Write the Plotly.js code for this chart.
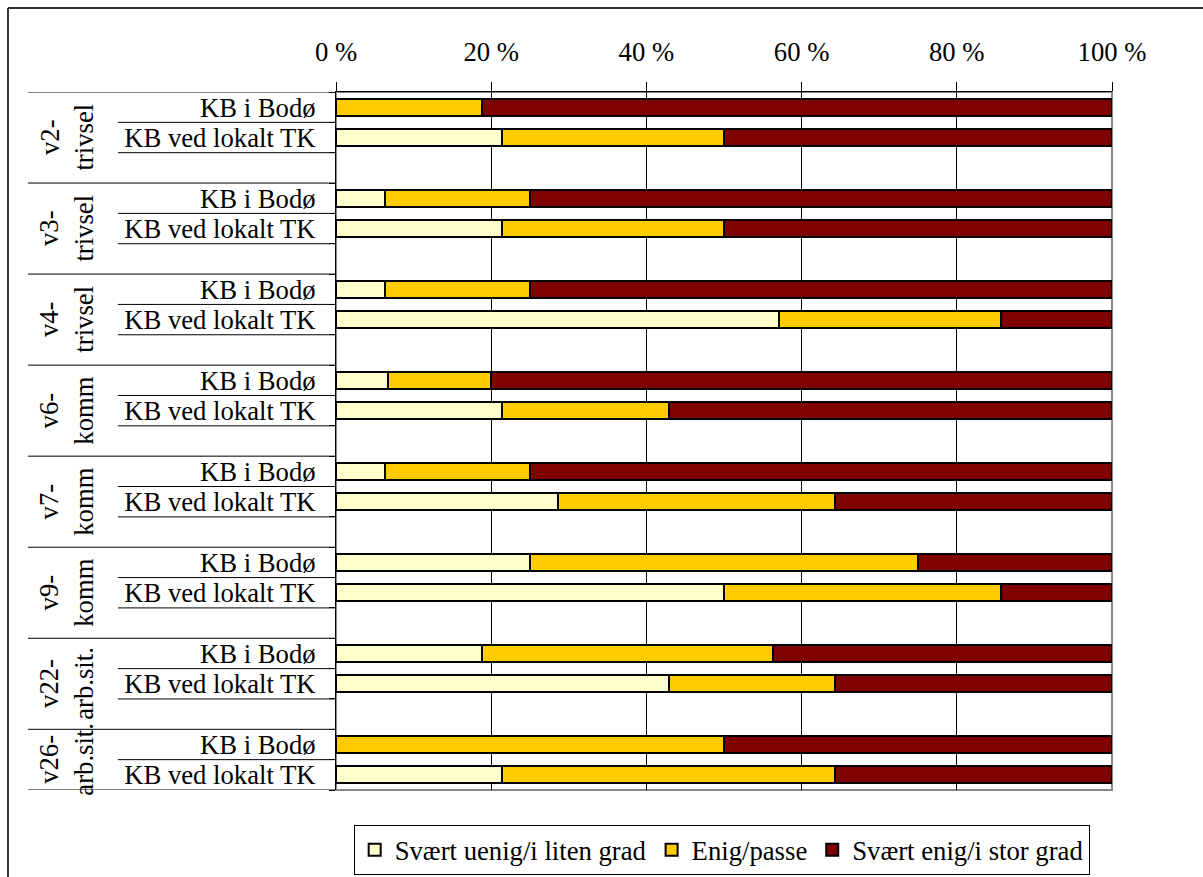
<!DOCTYPE html>
<html>
<head>
<meta charset="utf-8">
<script src="https://cdn.plot.ly/plotly-3.0.1.min.js"></script>
<style>
  html, body { margin: 0; padding: 0; background: #fff; }
  #chart { width: 1203px; height: 877px; }
</style>
</head>
<body>
<div id="chart"></div>
<script>
// Survey items (two-line group labels) and the two respondent units per item
const groups = ['v2-<br>trivsel', 'v3-<br>trivsel', 'v4-<br>trivsel', 'v6-<br>komm',
                'v7-<br>komm', 'v9-<br>komm', 'v22-<br>arb.sit.', 'v26-<br>arb.sit.'];
const units = ['KB i Bodø', 'KB ved lokalt TK'];

// Share of answers (%) per bar, ordered item by item: [Bodø, lokalt TK, ...]
const uenig    = [0, 21.43, 6.25, 21.43, 6.25, 57.14, 6.67, 21.43, 6.25, 28.57, 25, 50, 18.75, 42.86, 0, 21.43];
const enig     = [18.75, 28.57, 18.75, 28.57, 18.75, 28.57, 13.33, 21.43, 18.75, 35.71, 50, 35.71, 37.5, 21.43, 50, 42.86];
const storGrad = [81.25, 50, 75, 50, 75, 14.29, 80, 57.14, 75, 35.71, 25, 14.29, 43.75, 35.71, 50, 35.71];

const seriesNames = ['Svært uenig/i liten grad', 'Enig/passe', 'Svært enig/i stor grad'];
const seriesColors = ['#FFFFCC', '#FFCC00', '#800000'];
const xTicks = [0, 20, 40, 60, 80, 100];
const xTickLabels = ['0 %', '20 %', '40 %', '60 %', '80 %', '100 %'];

// Each item takes three rows (two bars + a spacer), the last item has no spacer
const yPos = [], yText = [];
groups.forEach((g, gi) => units.forEach((u, ui) => { yPos.push(3 * gi + ui); yText.push(u); }));
const nRows = 3 * groups.length - 1;

const FONT = 'Liberation Serif';
const FS = 26.7;

const traces = [uenig, enig, storGrad].map((vals, i) => ({
  type: 'bar',
  orientation: 'h',
  name: seriesNames[i],
  x: vals,
  y: yPos,
  width: 0.55,
  marker: { color: seriesColors[i], line: { color: '#000', width: 2 } },
  hoverinfo: 'skip'
}));

// Left-hand category separators: full-width lines between items, short ones between units
const shapes = [];
const groupLineX0 = -0.397, unitLineX0 = -0.281;
for (let gi = 0; gi <= groups.length; gi++) {
  const yb = Math.min(3 * gi, nRows) - 0.5;
  shapes.push({ type: 'line', xref: 'paper', yref: 'y', x0: groupLineX0, x1: 0, y0: yb, y1: yb,
                line: { color: '#000', width: 1 } });
}
groups.forEach((g, gi) => {
  const count = gi < groups.length - 1 ? 2 : 1;
  for (let k = 0; k < count; k++) {
    const yb = 3 * gi + k + 0.5;
    shapes.push({ type: 'line', xref: 'paper', yref: 'y', x0: unitLineX0, x1: 0, y0: yb, y1: yb,
                  line: { color: '#000', width: 1 } });
  }
});
// Plot-area frame (grey) and outer chart frame
shapes.push({ type: 'rect', xref: 'paper', yref: 'paper', x0: 0, x1: 1, y0: 0, y1: 1,
              line: { color: '#888', width: 2 }, layer: 'below' });
shapes.push({ type: 'line', xref: 'paper', yref: 'paper', x0: -0.4227, x1: 1.2, y0: 1.1203, y1: 1.1203,
              line: { color: '#333', width: 2 } });
shapes.push({ type: 'line', xref: 'paper', yref: 'paper', x0: -0.4227, x1: -0.4227, y0: -0.2, y1: 1.1203,
              line: { color: '#333', width: 2 } });

// Rotated item labels, centred on each item's block of rows
const annotations = groups.map((g, gi) => {
  const first = 3 * gi, last = Math.min(3 * gi + 2, nRows - 1);
  return {
    text: g, xref: 'paper', yref: 'y', x: -0.3466, y: (first + last) / 2,
    xanchor: 'center', yanchor: 'middle', textangle: -90, showarrow: false,
    font: { family: FONT, size: FS, color: '#000' }
  };
});

const layout = {
  width: 1203, height: 877,
  margin: { l: 336, r: 91, t: 92, b: 87, autoexpand: false },
  paper_bgcolor: '#fff', plot_bgcolor: '#fff',
  barmode: 'stack',
  font: { family: FONT, size: FS, color: '#000' },
  showlegend: true,
  legend: {
    orientation: 'h', x: 0.497, xanchor: 'center', y: -0.05, yanchor: 'top',
    bordercolor: '#000', borderwidth: 1, bgcolor: '#fff',
    font: { family: FONT, size: FS, color: '#000' }, traceorder: 'normal'
  },
  xaxis: {
    side: 'top', range: [0, 100], tickmode: 'array', tickvals: xTicks, ticktext: xTickLabels,
    ticks: 'outside', ticklen: 9, tickcolor: '#000', tickwidth: 1, ticklabelstandoff: 10,
    showgrid: true, gridcolor: '#000', gridwidth: 1,
    showline: true, linecolor: '#000', linewidth: 1,
    zeroline: false, fixedrange: true, automargin: false,
    tickfont: { family: FONT, size: FS, color: '#000' }
  },
  yaxis: {
    range: [nRows - 0.5, -0.5], tickmode: 'array', tickvals: yPos, ticktext: yText,
    ticks: '', ticklabelstandoff: 14,
    minor: { tickmode: 'linear', tick0: 0.5, dtick: 1, ticks: 'outside', ticklen: 6, tickcolor: '#000', tickwidth: 1, showgrid: false },
    showgrid: false, showline: true, linecolor: '#000', linewidth: 1,
    zeroline: false, fixedrange: true, automargin: false,
    tickfont: { family: FONT, size: FS, color: '#000' }
  },
  shapes: shapes,
  annotations: annotations
};

Plotly.newPlot('chart', traces, layout, { displayModeBar: false, staticPlot: true });
</script>
</body>
</html>
